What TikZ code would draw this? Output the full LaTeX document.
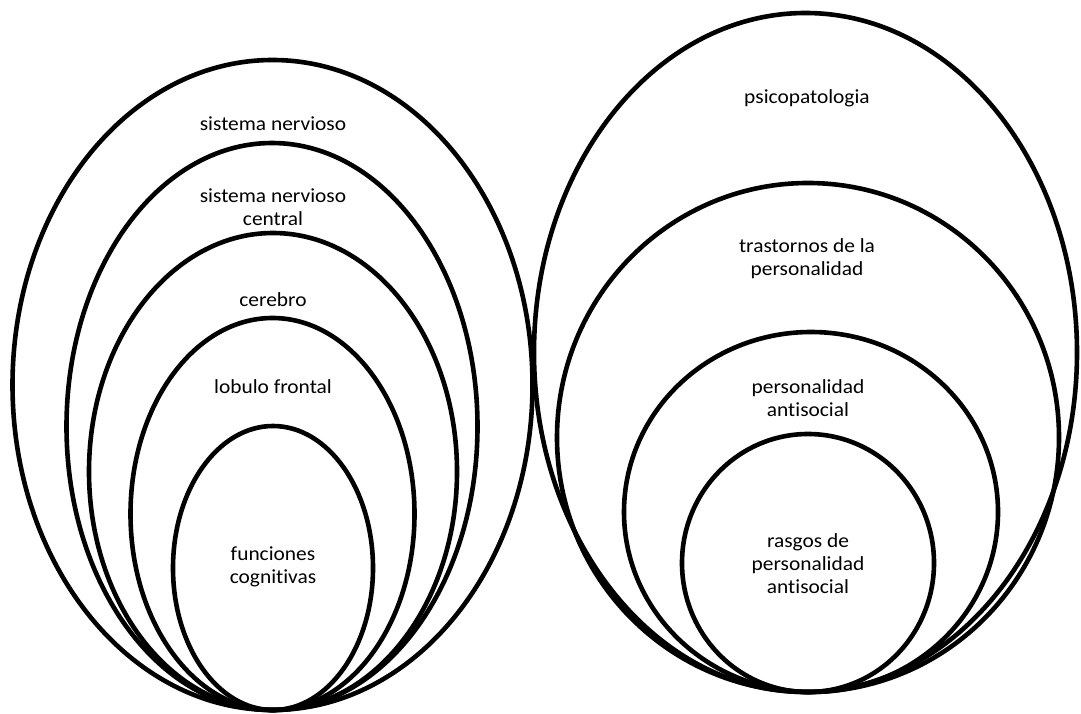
\documentclass[tikz,border=0pt]{standalone}
\usepackage{fontspec}
\setmainfont{Carlito}[Ligatures=NoCommon,FakeStretch=1.07]
\begin{document}
\begin{tikzpicture}[x=1pt,y=-1pt,
  ring/.style={draw=black,line width=4.6pt},
  lbl/.style={align=center,font=\fontsize{20}{23}\selectfont,inner sep=0pt}]
\useasboundingbox (0,0) rectangle (1081,714);
% left group
\draw[ring] (272.5,385) ellipse [x radius=260,y radius=325];
\draw[ring] (272,426.5) ellipse [x radius=205.5,y radius=283.5];
\draw[ring] (273,471.5) ellipse [x radius=184,y radius=238.5];
\draw[ring] (272.5,514) ellipse [x radius=142,y radius=196];
\draw[ring] (273,568) ellipse [x radius=100,y radius=142];
\node[lbl] (sn) at (273,124) {sistema nervioso};
\node[lbl] (snc) at (273,207.5) {sistema nervioso\\central};
\node[lbl] (cer) at (273,300) {cerebro};
\node[lbl] (lf) at (273,387) {lobulo frontal};
\node[lbl] (fc) at (273,567) {funciones\\cognitivas};
% right group
\draw[ring] (805.5,352.5) ellipse [x radius=271.5,y radius=339.5];
\draw[ring] (808,437.5) ellipse [x radius=251,y radius=254.5];
\draw[ring] (811,512) ellipse [x radius=187,y radius=180];
\draw[ring] (808,563) ellipse [x radius=126,y radius=129];
\node[lbl] (psi) at (807,98) {psicopatologia};
\node[lbl] (tp) at (807,259) {trastornos de la\\personalidad};
\node[lbl] (pa) at (808,398) {personalidad\\antisocial};
\node[lbl] (rpa) at (808,564) {rasgos de\\personalidad\\antisocial};
\end{tikzpicture}
\end{document}
